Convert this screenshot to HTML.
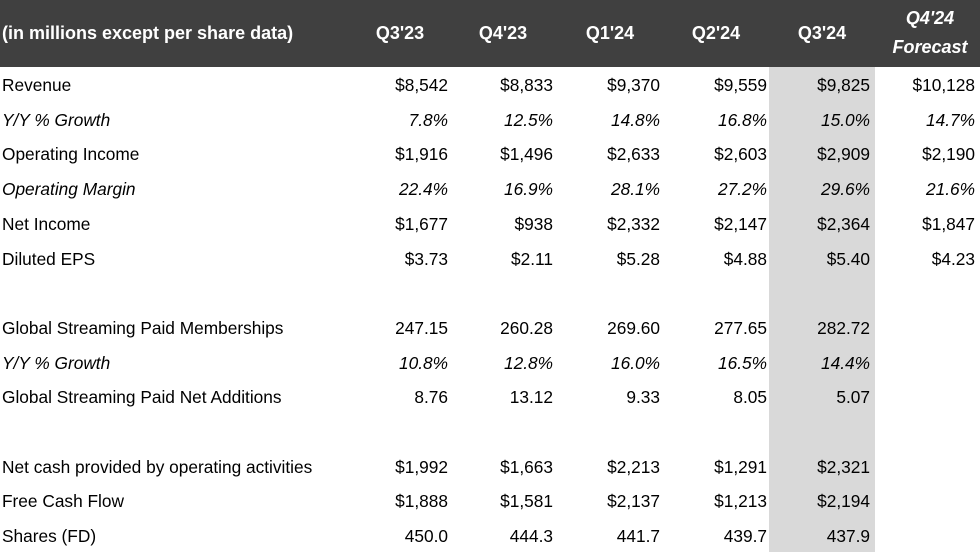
<!DOCTYPE html>
<html><head><meta charset="utf-8"><style>
body{margin:0;width:980px;height:552px;background:#fff;overflow:hidden;font-family:"Liberation Sans",sans-serif;position:relative}
#hdr{position:absolute;left:0;top:0;width:980px;height:67px;background:#404040}
#gcol{position:absolute;left:769px;top:67px;width:106px;height:485px;background:#d9d9d9}
.t{position:absolute;font-size:17.3px;color:#000;white-space:nowrap;line-height:20px}
.h{position:absolute;color:#fff;font-weight:bold;font-size:18px;white-space:nowrap;text-align:center;line-height:22px}
.i{font-style:italic}
</style></head><body>
<div id="hdr"></div>
<div id="gcol"></div>
<div class="h" style="left:2px;top:22px;text-align:left">(in millions except per share data)</div>
<script>
const cols=["Q3'23","Q4'23","Q1'24","Q2'24","Q3'24"];
const colCenters=[400,503,610,716,822];
const rights=[448,553,660,767,870,975];
const rows=[
["Revenue",0,["$8,542","$8,833","$9,370","$9,559","$9,825","$10,128"]],
["Y/Y % Growth",1,["7.8%","12.5%","14.8%","16.8%","15.0%","14.7%"]],
["Operating Income",0,["$1,916","$1,496","$2,633","$2,603","$2,909","$2,190"]],
["Operating Margin",1,["22.4%","16.9%","28.1%","27.2%","29.6%","21.6%"]],
["Net Income",0,["$1,677","$938","$2,332","$2,147","$2,364","$1,847"]],
["Diluted EPS",0,["$3.73","$2.11","$5.28","$4.88","$5.40","$4.23"]],
null,
["Global Streaming Paid Memberships",0,["247.15","260.28","269.60","277.65","282.72",""]],
["Y/Y % Growth",1,["10.8%","12.8%","16.0%","16.5%","14.4%",""]],
["Global Streaming Paid Net Additions",0,["8.76","13.12","9.33","8.05","5.07",""]],
null,
["Net cash provided by operating activities",0,["$1,992","$1,663","$2,213","$1,291","$2,321",""]],
["Free Cash Flow",0,["$1,888","$1,581","$2,137","$1,213","$2,194",""]],
["Shares (FD)",0,["450.0","444.3","441.7","439.7","437.9",""]]
];
const root=document.body;
cols.forEach((c,k)=>{const d=document.createElement('div');d.className='h';d.style.left=(colCenters[k]-50)+'px';d.style.width='100px';d.style.top='22px';d.textContent=c;


root.appendChild(d);});
const f=document.createElement('div');f.className='h i';f.style.left='880px';f.style.width='100px';f.style.top='4px';f.style.lineHeight='29px';f.innerHTML="Q4'24<br>Forecast";


root.appendChild(f);
rows.forEach((r,j)=>{if(!r)return;const y=85+j*34.7-10;
const l=document.createElement('div');l.className='t'+(r[1]?' i':'');l.style.left='2px';l.style.top=y+'px';l.textContent=r[0];


root.appendChild(l);
r[2].forEach((v,k)=>{if(!v)return;const c=document.createElement('div');c.className='t'+(r[1]?' i':'');c.style.right=(980-rights[k])+'px';c.style.top=y+'px';c.textContent=v;


root.appendChild(c);});});
</script>
</body></html>
